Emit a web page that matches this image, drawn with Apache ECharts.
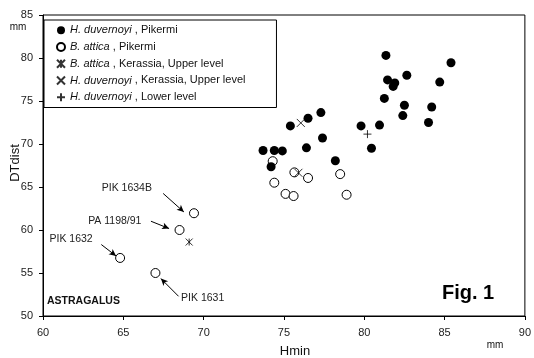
<!DOCTYPE html>
<html><head><meta charset="utf-8">
<script src="https://cdn.jsdelivr.net/npm/echarts@6/dist/echarts.min.js"></script>
<style>html,body{margin:0;padding:0;background:#fff}#c{width:534px;height:358px}</style>
</head><body><div id="c"></div>
<script>
// ---- data ----
const seriesNames = [
  ['H. duvernoyi', ' , Pikermi'],
  ['B. attica', ' , Pikermi'],
  ['B. attica', ' , Kerassia, Upper level'],
  ['H. duvernoyi', ' , Kerassia, Upper level'],
  ['H. duvernoyi', ' , Lower level']
];
const hDuvernoyiPikermi = [
  [73.7,69.25],[74.4,69.25],[74.9,69.2],[74.2,67.35],[75.4,72.1],[76.5,73.0],[77.3,73.65],
  [77.4,70.7],[76.4,69.55],[78.2,68.05],[79.8,72.1],[80.45,69.5],[81.35,80.3],[85.4,79.45],
  [82.65,78.0],[81.45,77.45],[81.9,77.1],[81.8,76.7],[84.7,77.2],[81.25,75.3],[82.5,74.5],
  [84.2,74.3],[82.4,73.3],[84.0,72.5],[80.95,72.2]
];
const bAtticaPikermi = [
  [74.3,68.0],[75.65,66.7],[76.5,66.05],[74.4,65.5],[75.1,64.2],[75.6,63.95],[78.5,66.5],
  [78.9,64.1],[69.4,61.95],[68.5,60.0],[64.8,56.75],[67.0,55.0]
];
const bAtticaKerassia = [[69.1,58.6]];
const hDuvernoyiKerassia = [[76.05,72.45],[75.9,66.65]];
const hDuvernoyiLower = [[80.2,71.15]];
// annotations: label text, label position, arrow start, arrow end (data units)
const annoLabels = ['PIK 1634B','PA 1198/91','PIK 1632','PIK 1631'];
const annoTextPos = [[65.22,64.83],[64.47,61.06],[61.75,58.89],[69.94,52.06]];
const annoArrowFrom = [[67.48,64.25],[66.72,61.02],[63.63,58.31],[68.44,52.29]];
const annoArrowTo = [[68.77,62.1],[67.85,60.17],[64.55,56.98],[67.34,54.35]];
const xTicks = {min:60, max:90, interval:5};
const yTicks = {min:50, max:85, interval:5};

// ---- chart ----
const FONT = 'Liberation Sans, Arial, sans-serif';
const pathX = 'path://M0,0L10,10M10,0L0,10';
const pathPlus = 'path://M5,0L5,10M0,5L10,5';
const pathStar = 'path://M0,0L10,10M10,0L0,10M5,0L5,10';
const legendName = i => seriesNames[i][0] + seriesNames[i][1];
const strokeStyle = {color:'rgba(0,0,0,0)', borderColor:'#000', borderWidth:1};

const chart = echarts.init(document.getElementById('c'), null, {renderer:'canvas'});
chart.setOption({
  animation:false,
  backgroundColor:'#fff',
  grid:{left:43, right:3, top:15, bottom:42, show:true, borderColor:'#000', borderWidth:1, backgroundColor:'#fff'},
  xAxis:{type:'value', min:xTicks.min, max:xTicks.max, interval:xTicks.interval,
    axisLine:{onZero:false, lineStyle:{color:'#000', width:1}},
    axisTick:{show:true, length:4, lineStyle:{color:'#000'}},
    axisLabel:{color:'#222', fontSize:11, fontFamily:FONT, margin:11},
    splitLine:{show:false}},
  yAxis:{type:'value', min:yTicks.min, max:yTicks.max, interval:yTicks.interval,
    axisLine:{show:true, onZero:false, lineStyle:{color:'#000', width:1}},
    axisTick:{show:true, length:4, lineStyle:{color:'#000'}},
    axisLabel:{color:'#222', fontSize:11, fontFamily:FONT, margin:10},
    splitLine:{show:false}},
  legend:{
    orient:'vertical', left:44, top:20,
    backgroundColor:'#fff', borderColor:'#000', borderWidth:1,
    padding:[4,31,4,12], itemGap:4, itemWidth:8, itemHeight:8,
    data:[0,1,2,3,4].map(legendName),
    selectedMode:false,
    formatter:function(name){
      const i = [0,1,2,3,4].find(k => legendName(k) === name);
      return '{i|' + seriesNames[i][0] + '}' + seriesNames[i][1];
    },
    textStyle:{fontSize:11, fontFamily:FONT, color:'#111', lineHeight:12.7,
      rich:{i:{fontStyle:'italic', fontSize:11, fontFamily:FONT, color:'#111', lineHeight:12.7}}}
  },
  graphic:[
    {type:'text', x:18, y:27.5, style:{text:'mm', font:'10px '+FONT, fill:'#111', align:'center', verticalAlign:'middle', textAlign:'center', textVerticalAlign:'middle'}},
    {type:'text', x:15, y:163, rotation:Math.PI/2, style:{text:'DTdist', font:'13px '+FONT, fill:'#111', align:'center', verticalAlign:'middle', textAlign:'center', textVerticalAlign:'middle'}},
    {type:'text', x:295, y:351, style:{text:'Hmin', font:'13px '+FONT, fill:'#111', align:'center', verticalAlign:'middle', textAlign:'center', textVerticalAlign:'middle'}},
    {type:'text', x:495, y:345.5, style:{text:'mm', font:'10px '+FONT, fill:'#111', align:'center', verticalAlign:'middle', textAlign:'center', textVerticalAlign:'middle'}},
    {type:'text', x:47, y:301, style:{text:'ASTRAGALUS', font:'bold 10.5px '+FONT, fill:'#111', align:'left', verticalAlign:'middle', textAlign:'left', textVerticalAlign:'middle'}},
    {type:'text', x:442, y:293, style:{text:'Fig. 1', font:'bold 20px '+FONT, fill:'#000', align:'left', verticalAlign:'middle', textAlign:'left', textVerticalAlign:'middle'}}
  ],
  series:[
    {name:legendName(0), type:'scatter', data:hDuvernoyiPikermi, symbol:'circle', symbolSize:9,
      itemStyle:{color:'#000', opacity:1}, emphasis:{disabled:true}, z:3},
    {name:legendName(1), type:'scatter', data:bAtticaPikermi, symbol:'circle', symbolSize:9,
      itemStyle:{color:'#fff', borderColor:'#000', borderWidth:1, opacity:1}, emphasis:{disabled:true}, z:2},
    {name:legendName(2), type:'scatter', data:bAtticaKerassia, symbol:pathStar, symbolSize:7,
      itemStyle:strokeStyle, emphasis:{disabled:true}, z:4},
    {name:legendName(3), type:'scatter', data:hDuvernoyiKerassia, symbol:pathX, symbolSize:8,
      itemStyle:strokeStyle, emphasis:{disabled:true}, z:4},
    {name:legendName(4), type:'scatter', data:hDuvernoyiLower, symbol:pathPlus, symbolSize:8,
      itemStyle:strokeStyle, emphasis:{disabled:true}, z:4},
    {name:'annotations', type:'scatter', data:[], silent:true,
      markLine:{silent:true, animation:false, symbol:['none','arrow'], symbolSize:[5,7],
        lineStyle:{color:'#000', width:1, type:'solid'}, label:{show:false}, emphasis:{disabled:true},
        data:annoArrowFrom.map((p,i)=>[{coord:p},{coord:annoArrowTo[i]}])},
      markPoint:{silent:true, animation:false, symbol:'rect', symbolSize:1, itemStyle:{color:'rgba(0,0,0,0)'},
        label:{show:true, position:'inside', color:'#222', fontSize:10.5, fontFamily:FONT, formatter:'{b}'},
        data:annoLabels.map((t,i)=>({name:t, coord:annoTextPos[i]}))}
    }
  ]
});
</script></body></html>
